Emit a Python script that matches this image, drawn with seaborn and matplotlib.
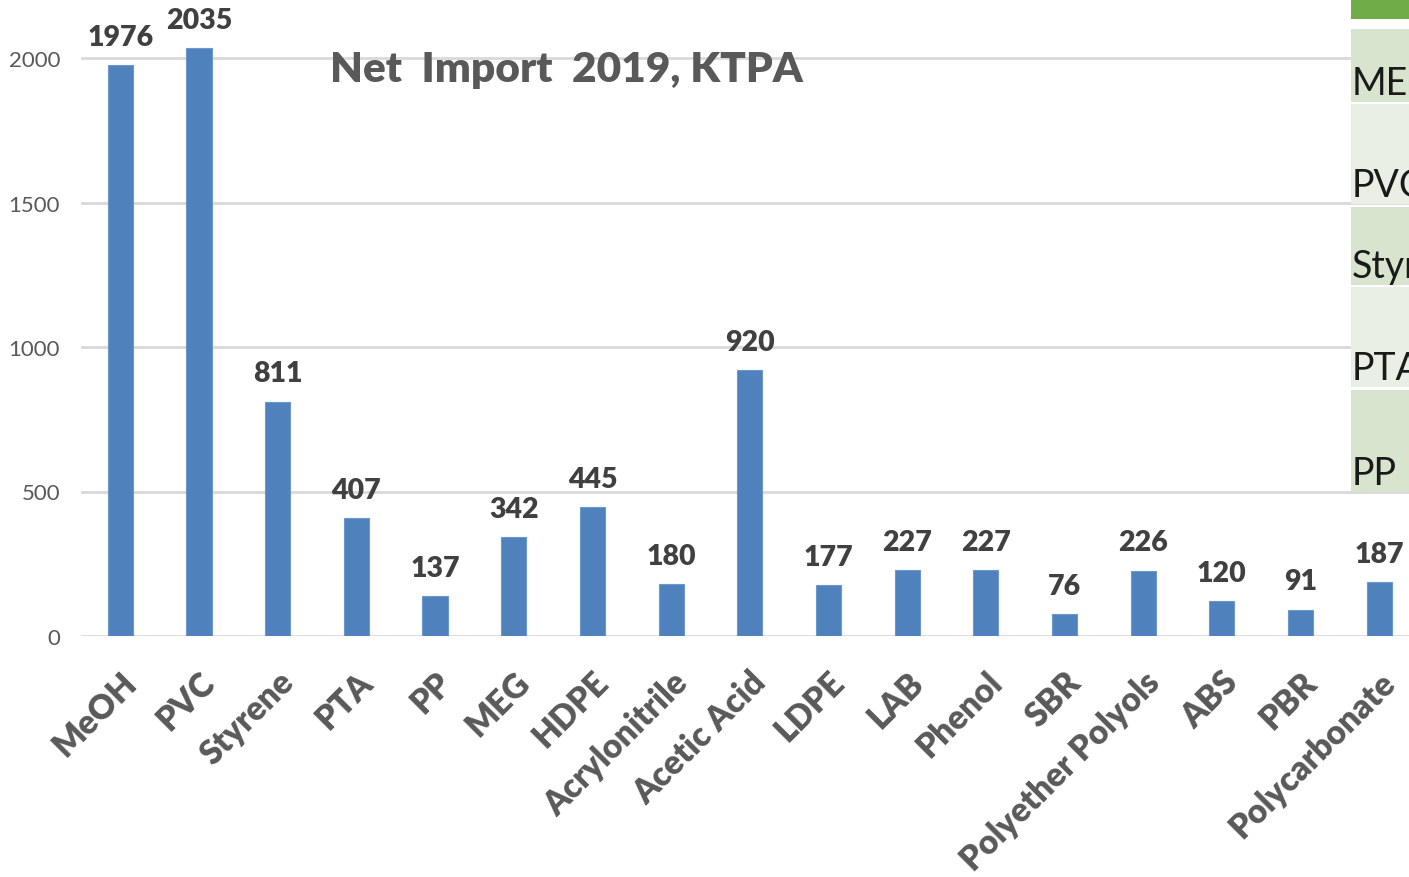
import matplotlib
matplotlib.use("Agg")
import matplotlib.pyplot as plt
import seaborn as sns
import pandas as pd
from matplotlib.patches import Rectangle

categories = ["MeOH", "PVC", "Styrene", "PTA", "PP", "MEG", "HDPE", "Acrylonitrile",
              "Acetic Acid", "LDPE", "LAB", "Phenol", "SBR", "Polyether Polyols",
              "ABS", "PBR", "Polycarbonate"]
values = [1976, 2035, 811, 407, 137, 342, 445, 180, 920, 177, 227, 227, 76, 226, 120, 91, 187]
yticks = [0, 500, 1000, 1500, 2000]
title = "Net  Import  2019, KTPA"
table_labels = ["ME", "PVC", "Styr", "PTA", "PP"]

sns.set_theme(style="white")
plt.rcParams['font.family'] = ['Lato', 'DejaVu Sans']

W, H = 1409, 878
fig = plt.figure(figsize=(W / 100, H / 100), dpi=100)
ax = fig.add_axes([81 / W, (H - 637) / H, 1 - 81 / W, 637 / H])

df = pd.DataFrame({"cat": categories, "val": values})
sns.barplot(data=df, x="cat", y="val", color="#4F81BD", saturation=1, width=0.32,
            ax=ax, edgecolor="#6C98CF", linewidth=0.8, zorder=2)

ax.set_ylim(0, 637 / 0.289)
ax.set_xlim(-0.5, (W - 120) / 78.7)
ax.set_yticks(yticks)
ax.set_yticklabels([str(v) for v in yticks], fontsize=16, color="#595959")
ax.yaxis.grid(True, color="#D9D9D9", linewidth=2, zorder=0)
ax.set_axisbelow(True)
for s in ax.spines.values():
    s.set_visible(False)
ax.tick_params(axis="y", length=0, pad=15)
ax.tick_params(axis="x", length=0, pad=21)
ax.set_xlabel("")
ax.set_ylabel("")
ax.set_xticks(range(len(categories)))
ax.set_xticklabels(categories, rotation=45, ha="right", rotation_mode="anchor",
                   fontsize=24, fontweight="heavy", color="#595959")

for c in ax.containers:
    ax.bar_label(c, labels=[str(v) for v in values], padding=11, fontsize=20.5,
                 fontweight="heavy", color="#404040")

fig.text(566 / W, 1 - 70 / H, title, ha="center", va="center", fontsize=30.5,
         fontweight="heavy", color="#595959")

# cropped table on the right edge
x0 = 1351 / W
rows = [(30, 103, "#D8E4CD"), (105, 205, "#E9EFE4"), (208, 286, "#D8E4CD"),
        (288, 388, "#E9EFE4"), (391, 493, "#D8E4CD")]
fig.patches.append(Rectangle((x0, 1 - 20 / H), 1 - x0, 20 / H, transform=fig.transFigure,
                             facecolor="#70AD47", edgecolor="none", zorder=5))
for (top, bot, col), lab in zip(rows, table_labels):
    fig.patches.append(Rectangle((x0, 1 - bot / H), 1 - x0, (bot - top) / H,
                                 transform=fig.transFigure, facecolor=col,
                                 edgecolor="none", zorder=5))
    fig.text(x0 + 1 / W, 1 - (bot - 8) / H, lab, ha="left", va="baseline",
             fontsize=27, color="#1a1a1a", zorder=6)

fig.savefig("out.png", dpi=100)
